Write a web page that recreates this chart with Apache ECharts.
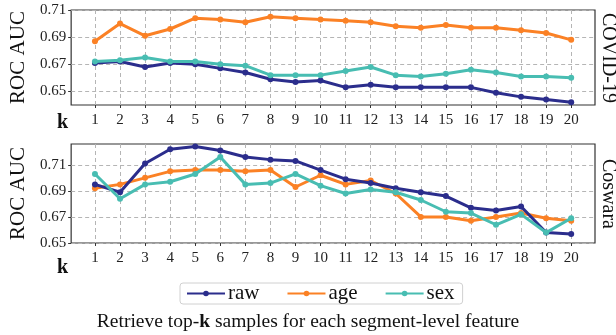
<!DOCTYPE html>
<html>
<head>
<meta charset="utf-8">
<script src="https://cdn.jsdelivr.net/npm/echarts@6/dist/echarts.min.js"></script>
<style>
  html, body { margin: 0; padding: 0; background: #fff; }
  #chart { width: 616px; height: 335px; }
</style>
</head>
<body>
<div id="chart"></div>
<script>
// retrieval size k
const kValues = [1, 2, 3, 4, 5, 6, 7, 8, 9, 10, 11, 12, 13, 14, 15, 16, 17, 18, 19, 20];

// COVID-19 panel
const covidRaw = [0.671, 0.672, 0.668, 0.671, 0.670, 0.667, 0.664, 0.659, 0.657, 0.658,
                  0.653, 0.655, 0.653, 0.653, 0.653, 0.653, 0.649, 0.646, 0.644, 0.642];
const covidAge = [0.687, 0.700, 0.691, 0.696, 0.704, 0.703, 0.701, 0.705, 0.704, 0.703,
                  0.702, 0.701, 0.698, 0.697, 0.699, 0.697, 0.697, 0.695, 0.693, 0.688];
const covidSex = [0.672, 0.673, 0.675, 0.672, 0.672, 0.670, 0.669, 0.662, 0.662, 0.662,
                  0.665, 0.668, 0.662, 0.661, 0.663, 0.666, 0.664, 0.661, 0.661, 0.660];

// Coswara panel
const coswaraRaw = [0.695, 0.689, 0.711, 0.722, 0.724, 0.721, 0.716, 0.714, 0.713, 0.706,
                    0.699, 0.696, 0.692, 0.689, 0.686, 0.677, 0.675, 0.678, 0.658, 0.657];
const coswaraAge = [0.692, 0.695, 0.700, 0.705, 0.706, 0.706, 0.705, 0.706, 0.693, 0.702,
                    0.695, 0.698, 0.688, 0.670, 0.670, 0.667, 0.670, 0.673, 0.669, 0.667];
const coswaraSex = [0.703, 0.684, 0.695, 0.697, 0.703, 0.716, 0.695, 0.696, 0.703, 0.694,
                    0.688, 0.691, 0.689, 0.683, 0.674, 0.673, 0.664, 0.672, 0.658, 0.669];

const yTicks = [0.65, 0.67, 0.69, 0.71];

const colors = { raw: '#2b2d8c', age: '#fb8125', sex: '#48bdb2' };
const serif = "'Liberation Serif', 'DejaVu Serif', serif";

function pairs(values) {
  return kValues.map((k, i) => [k, values[i]]);
}

function makeXAxis(gridIndex) {
  return {
    type: 'value',
    gridIndex: gridIndex,
    min: 0.05,
    max: 20.95,
    axisLine: { show: false },
    axisTick: { show: true, customValues: kValues, length: 3, lineStyle: { color: '#333' } },
    axisLabel: { customValues: kValues, color: '#222', fontFamily: serif, fontSize: 15, margin: 8 },
    splitLine: { show: true, lineStyle: { color: '#b5b5b5', type: [4, 3], width: 1 } }
  };
}

function makeYAxis(gridIndex, min, max) {
  return {
    type: 'value',
    gridIndex: gridIndex,
    min: min,
    max: max,
    name: 'ROC AUC',
    nameLocation: 'middle',
    nameRotate: 90,
    nameGap: 38,
    nameTextStyle: { fontFamily: serif, fontSize: 21, color: '#111' },
    axisLine: { show: false },
    axisTick: { show: true, customValues: yTicks, length: 3, lineStyle: { color: '#333' } },
    axisLabel: {
      customValues: yTicks, color: '#222', fontFamily: serif, fontSize: 15, margin: 5,
      formatter: (v) => v.toFixed(2)
    },
    splitLine: { show: true, lineStyle: { color: '#b5b5b5', type: [4, 3], width: 1 } }
  };
}

function makeSeries(name, values, idx) {
  return {
    name: name,
    type: 'line',
    xAxisIndex: idx,
    yAxisIndex: idx,
    data: pairs(values),
    color: colors[name],
    symbol: 'circle',
    symbolSize: 6,
    lineStyle: { width: 3 },
    z: name === 'raw' ? 3 : (name === 'age' ? 2 : 4),
    animation: false
  };
}

const chart = echarts.init(document.getElementById('chart'));

const option = {
  animation: false,
  grid: [
    { left: 65, right: 21, top: 10, height: 95, show: true, borderColor: '#333', borderWidth: 1.2, backgroundColor: '#fff' },
    { left: 65, right: 21, top: 144, height: 99, show: true, borderColor: '#333', borderWidth: 1.2, backgroundColor: '#fff' }
  ],
  xAxis: [makeXAxis(0), makeXAxis(1)],
  yAxis: [makeYAxis(0, 0.64, 0.71), makeYAxis(1, 0.65, 0.726)],
  legend: {
    data: ['raw', 'age', 'sex'],
    left: 180,
    top: 283,
    itemWidth: 38,
    itemHeight: 7,
    itemGap: 27,
    padding: [0, 8, 0, 6],
    borderColor: '#d0d0d0',
    borderWidth: 1,
    borderRadius: 3,
    textStyle: { fontFamily: serif, fontSize: 21, color: '#111', padding: [0, 0, 0, -2] }
  },
  graphic: [
    { type: 'text', left: 57, top: 113, style: { text: 'k', font: "bold 20px " + serif, fill: '#111' } },
    { type: 'text', left: 57, top: 258, style: { text: 'k', font: "bold 20px " + serif, fill: '#111' } },
    {
      type: 'text', x: 598, y: 58, rotation: -Math.PI / 2,
      style: { text: 'COVID-19', font: "20px " + serif, fill: '#111', align: 'center', verticalAlign: 'bottom' }
    },
    {
      type: 'text', x: 598, y: 194, rotation: -Math.PI / 2,
      style: { text: 'Coswara', font: "20px " + serif, fill: '#111', align: 'center', verticalAlign: 'bottom' }
    },
    {
      type: 'text', x: 308, y: 322,
      style: {
        text: '{n|Retrieve top-}{b|k}{n| samples for each segment-level feature}',
        align: 'center', verticalAlign: 'middle',
        rich: {
          n: { fontFamily: serif, fontSize: 19.5, fill: '#111' },
          b: { fontFamily: serif, fontSize: 19.5, fontWeight: 'bold', fill: '#111' }
        }
      }
    }
  ],
  series: [
    makeSeries('raw', covidRaw, 0),
    makeSeries('age', covidAge, 0),
    makeSeries('sex', covidSex, 0),
    makeSeries('raw', coswaraRaw, 1),
    makeSeries('age', coswaraAge, 1),
    makeSeries('sex', coswaraSex, 1)
  ]
};

chart.setOption(option);
</script>
</body>
</html>
